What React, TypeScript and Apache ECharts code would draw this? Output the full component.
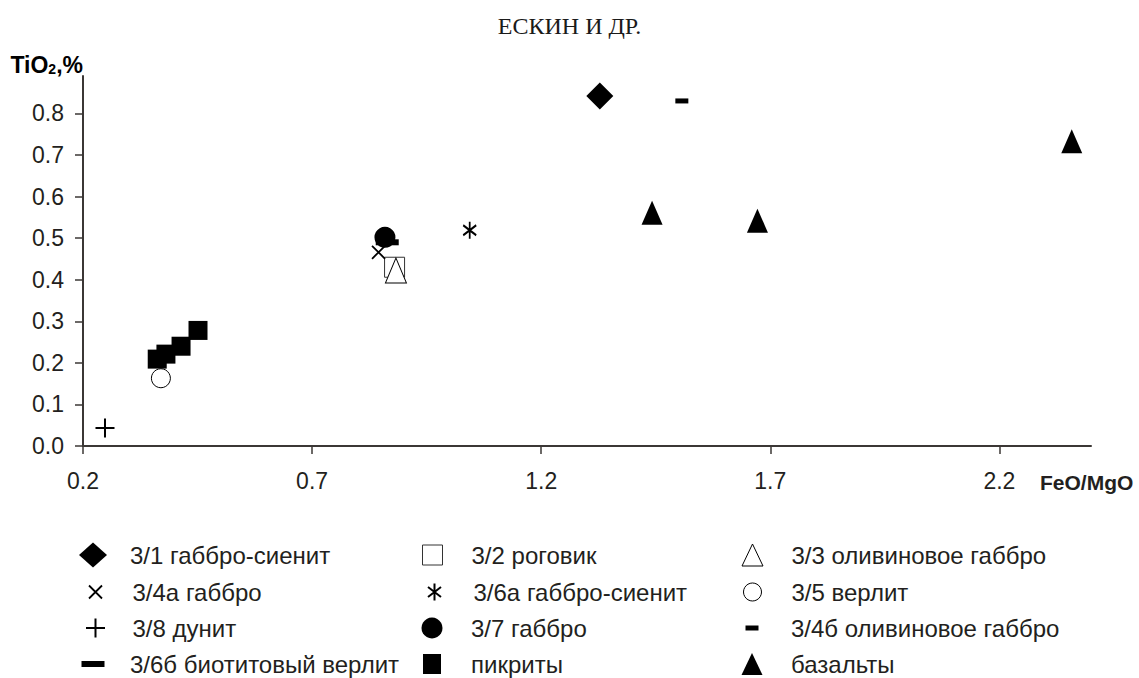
import React, { useEffect, useRef } from "react";
import * as echarts from "echarts";

// FeO/MgO vs TiO2 (%) for each sample
const gabbroSyenite31 = [[1.328, 0.842]];
const hornfels32 = [[0.880, 0.430]];
const olivineGabbro33 = [[0.883, 0.422]];
const gabbro34a = [[0.845, 0.466]];
const gabbroSyenite36a = [[1.044, 0.519]];
const wehrlite35 = [[0.370, 0.163]];
const dunite38 = [[0.248, 0.043]];
const biotiteWehrlite36b = [[0.864, 0.490]];
const gabbro37 = [[0.859, 0.502]];
const olivineGabbro34b = [[1.507, 0.830]];
const picrites = [
  [0.362, 0.209],
  [0.381, 0.221],
  [0.414, 0.240],
  [0.451, 0.278],
];
const basalts = [
  [1.442, 0.561],
  [1.672, 0.542],
  [2.358, 0.733],
];

const xTicks = [0.2, 0.7, 1.2, 1.7, 2.2];
const yTicks = [0, 0.1, 0.2, 0.3, 0.4, 0.5, 0.6, 0.7, 0.8];

const FONT = "'Liberation Sans', Arial, sans-serif";
const TEXT = "#231f20";
const AXIS = "#3b3735";

const crossPath = "path://M0 0 L10 10 M10 0 L0 10";
const plusPath = "path://M5 0 L5 10 M0 5 L10 5";
const starPath = "path://M6.5 0 L6.5 17 M0 3.5 L13 13.5 M13 3.5 L0 13.5";

const solid = { color: "#000", borderColor: "#000", borderWidth: 0, opacity: 1 };
const hollow = { color: "#fff", borderColor: "#000", borderWidth: 1, opacity: 1 };
const stroke = { color: "none", borderColor: "#000", borderWidth: 2, opacity: 1 };

type Item = {
  name: string;
  data: number[][];
  symbol: string;
  size: number | number[];
  legendSize: number[];
  style: any;
  col: number;
  row: number;
};

const items: Item[] = [
  { name: "3/1 габбро-сиенит", data: gabbroSyenite31, symbol: "diamond", size: 27, legendSize: [28, 25], style: solid, col: 0, row: 0 },
  { name: "3/2 роговик", data: hornfels32, symbol: "rect", size: 20, legendSize: [20, 20], style: { ...hollow, borderColor: "#333" }, col: 1, row: 0 },
  { name: "3/3 оливиновое габбро", data: olivineGabbro33, symbol: "triangle", size: [21, 25], legendSize: [21, 22], style: hollow, col: 2, row: 0 },
  { name: "3/4а габбро", data: gabbro34a, symbol: crossPath, size: 13, legendSize: [13, 13], style: { ...stroke, borderWidth: 1.8 }, col: 0, row: 1 },
  { name: "3/6а габбро-сиенит", data: gabbroSyenite36a, symbol: starPath, size: [13, 17], legendSize: [13, 17], style: stroke, col: 1, row: 1 },
  { name: "3/5 верлит", data: wehrlite35, symbol: "circle", size: 19, legendSize: [18, 18], style: hollow, col: 2, row: 1 },
  { name: "3/8 дунит", data: dunite38, symbol: plusPath, size: 19, legendSize: [19, 19], style: stroke, col: 0, row: 2 },
  { name: "3/6б биотитовый верлит", data: biotiteWehrlite36b, symbol: "rect", size: [23, 6], legendSize: [23, 6], style: solid, col: 0, row: 3 },
  { name: "3/7 габбро", data: gabbro37, symbol: "circle", size: 21, legendSize: [21, 21], style: solid, col: 1, row: 2 },
  { name: "3/4б оливиновое габбро", data: olivineGabbro34b, symbol: "rect", size: [13, 5], legendSize: [13, 5], style: solid, col: 2, row: 2 },
  { name: "пикриты", data: picrites, symbol: "rect", size: 19, legendSize: [18, 20], style: solid, col: 1, row: 3 },
  { name: "базальты", data: basalts, symbol: "triangle", size: [21, 24], legendSize: [21, 22], style: solid, col: 2, row: 3 },
];

// legend grid: row centres, icon centres and text starts per column
const rowY = [555, 592, 628, 664];
const iconX = [93, 432, 752];
const textX = [130, 471, 791];
const LINE_H = 28;

export default function App() {
  const ref = useRef<HTMLDivElement>(null);

  useEffect(() => {
    if (!ref.current) return;
    const chart = echarts.init(ref.current, null, { renderer: "svg" });

    const legends = items.map((it) => {
      const [w, h] = it.legendSize;
      const boxH = Math.max(h, LINE_H);
      const cx = iconX[it.col];
      const pad = textX[it.col] - (cx + w / 2 + 5);
      return {
        data: [{ name: it.name, icon: it.symbol }],
        left: cx - w / 2,
        top: rowY[it.row] - boxH / 2,
        padding: 0,
        itemWidth: w,
        itemHeight: h,
        selectedMode: false,
        symbolKeepAspect: true,
        itemStyle: { ...it.style },
        textStyle: {
          fontFamily: FONT,
          fontSize: 24,
          color: TEXT,
          lineHeight: LINE_H,
          padding: [0, 0, 0, pad],
        },
      };
    });

    chart.setOption({
      animation: false,
      backgroundColor: "#fff",
      title: {
        text: "ЕСКИН И ДР.",
        left: "center",
        top: 14,
        padding: 0,
        textStyle: {
          fontFamily: "'Liberation Serif', 'Times New Roman', serif",
          fontWeight: "normal",
          fontSize: 24,
          color: "#1a1a1a",
        },
      },
      grid: { left: 83, right: 48, top: 76, bottom: 232 },
      xAxis: {
        type: "value",
        min: 0.2,
        max: 2.4,
        axisLine: { lineStyle: { color: AXIS, width: 2 } },
        axisTick: {
          show: true,
          length: 8,
          customValues: xTicks,
          lineStyle: { color: AXIS, width: 1.5 },
        },
        axisLabel: {
          customValues: xTicks,
          formatter: (v: number) => v.toFixed(1),
          fontFamily: FONT,
          fontSize: 23,
          color: TEXT,
          margin: 23,
        },
        splitLine: { show: false },
      },
      yAxis: {
        type: "value",
        min: 0,
        max: 0.89,
        axisLine: { show: true, lineStyle: { color: AXIS, width: 2 } },
        axisTick: {
          show: true,
          length: 8,
          customValues: yTicks,
          lineStyle: { color: AXIS, width: 1.5 },
        },
        axisLabel: {
          customValues: yTicks,
          formatter: (v: number) => v.toFixed(1),
          fontFamily: FONT,
          fontSize: 23,
          color: TEXT,
          margin: 19,
        },
        splitLine: { show: false },
      },
      legend: legends,
      series: items.map((it) => ({
        type: "scatter",
        name: it.name,
        data: it.data,
        symbol: it.symbol,
        symbolSize: it.size,
        itemStyle: { ...it.style },
        emphasis: { disabled: true },
      })),
      graphic: [
        {
          type: "text",
          style: {
            text: "{a|TiO}{s|2}{a|,%}",
            x: 83,
            y: 63,
            align: "right",
            verticalAlign: "middle",
            rich: {
              a: { fontFamily: FONT, fontWeight: "bold", fontSize: 23, color: TEXT, verticalAlign: "bottom", lineHeight: 26 },
              s: { fontFamily: FONT, fontWeight: "bold", fontSize: 14, color: TEXT, verticalAlign: "bottom", lineHeight: 14 },
            },
          },
        },
        {
          type: "text",
          style: {
            text: "FeO/MgO",
            x: 1040,
            y: 482,
            verticalAlign: "middle",
            fontFamily: FONT,
            fontWeight: "bold",
            fontSize: 21,
            fill: TEXT,
          },
        },
      ],
    });

    return () => chart.dispose();
  }, []);

  return (
    <div
      ref={ref}
      style={{ position: "fixed", left: 0, top: 0, width: 1139, height: 678 }}
    />
  );
}
